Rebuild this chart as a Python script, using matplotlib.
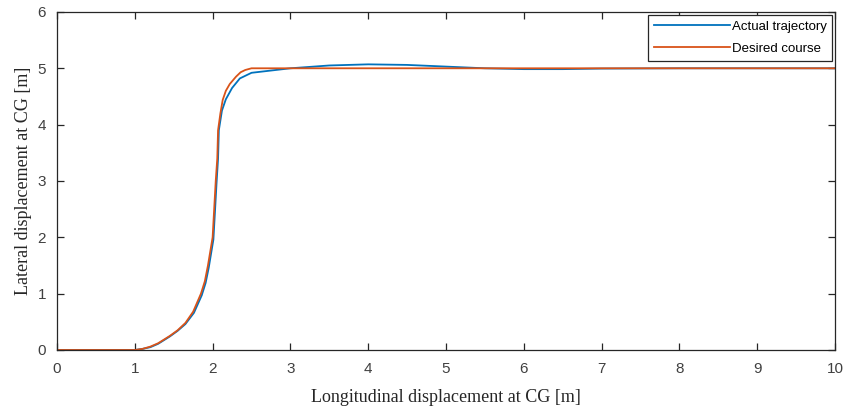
import matplotlib
matplotlib.use("Agg")
import matplotlib.pyplot as plt

# desired course (reference lane change)
desired_x = [0, 1.0, 1.1, 1.2, 1.3, 1.45, 1.55, 1.65, 1.75, 1.85, 1.9, 1.94, 1.97,
             2.0, 2.02, 2.04, 2.06, 2.07, 2.1, 2.13, 2.17, 2.22, 2.3, 2.36, 2.42,
             2.5, 3.0, 10]
desired_y = [0, 0, 0.02, 0.06, 0.12, 0.25, 0.35, 0.48, 0.68, 1.0, 1.22, 1.5, 1.75,
             2.0, 2.5, 3.0, 3.4, 3.9, 4.2, 4.44, 4.6, 4.72, 4.85, 4.93, 4.97,
             5.0, 5.0, 5.0]

# actual trajectory of the vehicle
actual_x = [0, 1.0, 1.1, 1.2, 1.3, 1.45, 1.55, 1.65, 1.76, 1.86, 1.91, 1.95, 1.98,
            2.01, 2.03, 2.05, 2.07, 2.08, 2.12, 2.17, 2.25, 2.35, 2.5, 2.75, 3.0,
            3.5, 4.0, 4.5, 5.0, 5.5, 6.0, 6.5, 7.0, 8.0, 10]
actual_y = [0, 0, 0.02, 0.05, 0.11, 0.24, 0.34, 0.46, 0.66, 0.97, 1.19, 1.46, 1.71,
            1.96, 2.45, 2.95, 3.4, 3.9, 4.25, 4.45, 4.65, 4.82, 4.92, 4.96, 5.0,
            5.05, 5.07, 5.06, 5.03, 5.0, 4.985, 4.985, 4.995, 5.0, 5.0]

fig = plt.figure(figsize=(8.46, 4.12), dpi=100)
ax = fig.add_axes([0.0674, 0.1505, 0.9196, 0.8205])

ax.plot(actual_x, actual_y, color="#0072BD", lw=1.3, label="Actual trajectory")
ax.plot(desired_x, desired_y, color="#D95319", lw=1.3, label="Desired course")

ax.set_xlim(0, 10)
ax.set_ylim(0, 6)
ax.set_xticks(range(0, 11))
ax.set_yticks(range(0, 7))

for s in ax.spines.values():
    s.set_color("#262626")
    s.set_linewidth(0.9)
ax.tick_params(direction="in", top=True, right=True, length=5, width=0.9,
               colors="#262626", labelsize=11, labelcolor="#404040")
ax.tick_params(axis="x", pad=9)
ax.tick_params(axis="y", pad=8)
for lab in ax.get_xticklabels() + ax.get_yticklabels():
    lab.set_family("Liberation Sans")

ax.set_xlabel("Longitudinal displacement at CG [m]", family="Liberation Serif",
              fontsize=13, labelpad=9, color="#262626")
ax.set_ylabel("Lateral displacement at CG [m]", family="Liberation Serif",
              fontsize=13, labelpad=4, color="#262626")

leg = ax.legend(loc="upper right", prop={"family": "Liberation Sans", "size": 9.5},
                handlelength=5.8, handletextpad=0.1, borderaxespad=0.2,
                fancybox=False, edgecolor="#262626", framealpha=1,
                labelspacing=0.75, borderpad=0.45)
leg.get_frame().set_linewidth(0.9)

fig.savefig("out.png", dpi=100)
